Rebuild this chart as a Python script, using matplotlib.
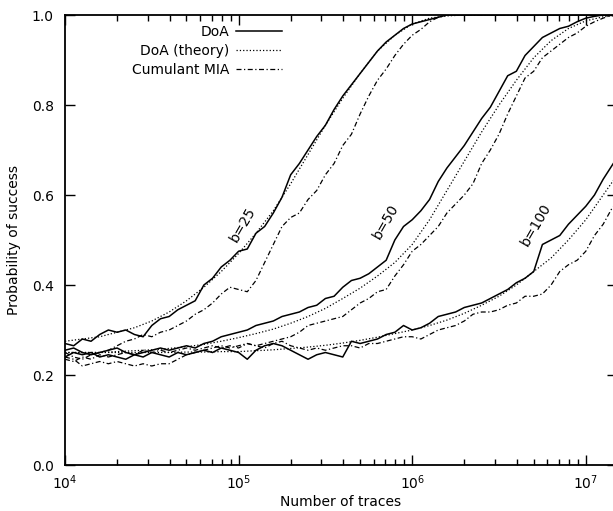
#!/usr/bin/env python3
import numpy as np
import matplotlib
matplotlib.use("Agg")
import matplotlib.pyplot as plt
from matplotlib.ticker import LogLocator, FixedLocator, FormatStrFormatter

# sampling grids (log10 of number of traces)
LOG_N_MEASURED = np.round(np.arange(4.0, 7.2001, 0.05), 2)
LOG_N_THEORY = np.round(np.arange(4.0, 7.2001, 0.1), 1)

# measured DoA success rates
doa_b25 = [
    0.27, 0.265, 0.28, 0.275, 0.29, 0.30, 0.295, 0.30, 0.29, 0.285,
    0.31, 0.325, 0.33, 0.345, 0.355, 0.365, 0.40, 0.415, 0.44, 0.455,
    0.475, 0.48, 0.515, 0.53, 0.56, 0.595, 0.645, 0.67, 0.70, 0.73,
    0.755, 0.79, 0.82, 0.845, 0.87, 0.895, 0.92, 0.94, 0.955, 0.97,
    0.98, 0.985, 0.99, 0.995, 1.0, 1.0, 1.0, 1.0, 1.0, 1.0,
    1.0, 1.0, 1.0, 1.0, 1.0, 1.0, 1.0, 1.0, 1.0, 1.0,
    1.0, 1.0, 1.0, 1.0, 1.0,
]
doa_b50 = [
    0.255, 0.26, 0.25, 0.245, 0.25, 0.255, 0.26, 0.25, 0.245, 0.25,
    0.255, 0.26, 0.255, 0.26, 0.265, 0.26, 0.27, 0.275, 0.285, 0.29,
    0.295, 0.30, 0.31, 0.315, 0.32, 0.33, 0.335, 0.34, 0.35, 0.355,
    0.37, 0.375, 0.395, 0.41, 0.415, 0.425, 0.44, 0.455, 0.50, 0.53,
    0.545, 0.565, 0.59, 0.63, 0.66, 0.685, 0.71, 0.74, 0.77, 0.795,
    0.83, 0.865, 0.875, 0.91, 0.93, 0.95, 0.96, 0.97, 0.975, 0.985,
    0.993, 0.997, 1.0, 1.0, 1.0,
]
doa_b100 = [
    0.24, 0.25, 0.245, 0.25, 0.24, 0.245, 0.24, 0.235, 0.245, 0.24,
    0.25, 0.245, 0.24, 0.25, 0.245, 0.25, 0.255, 0.25, 0.26, 0.255,
    0.25, 0.235, 0.255, 0.265, 0.27, 0.265, 0.255, 0.245, 0.235, 0.245,
    0.25, 0.245, 0.24, 0.275, 0.27, 0.275, 0.28, 0.29, 0.295, 0.31,
    0.30, 0.305, 0.315, 0.33, 0.335, 0.34, 0.35, 0.355, 0.36, 0.37,
    0.38, 0.39, 0.405, 0.415, 0.43, 0.49, 0.50, 0.51, 0.535, 0.555,
    0.575, 0.60, 0.635, 0.665, 0.695,
]

# cumulant MIA success rates
mia_b25 = [
    0.25, 0.24, 0.235, 0.245, 0.25, 0.255, 0.265, 0.275, 0.28, 0.29,
    0.285, 0.295, 0.30, 0.31, 0.32, 0.335, 0.345, 0.36, 0.38, 0.395,
    0.39, 0.385, 0.41, 0.45, 0.49, 0.53, 0.55, 0.56, 0.59, 0.61,
    0.645, 0.67, 0.71, 0.735, 0.78, 0.82, 0.855, 0.88, 0.91, 0.935,
    0.955, 0.968, 0.985, 0.995, 1.0, 1.0, 1.0, 1.0, 1.0, 1.0,
    1.0, 1.0, 1.0, 1.0, 1.0, 1.0, 1.0, 1.0, 1.0, 1.0,
    1.0, 1.0, 1.0, 1.0, 1.0,
]
mia_b50 = [
    0.24, 0.235, 0.22, 0.225, 0.23, 0.225, 0.23, 0.225, 0.22, 0.225,
    0.22, 0.225, 0.225, 0.235, 0.245, 0.25, 0.255, 0.26, 0.265, 0.26,
    0.265, 0.27, 0.265, 0.27, 0.275, 0.28, 0.285, 0.295, 0.31, 0.315,
    0.32, 0.325, 0.33, 0.345, 0.36, 0.37, 0.385, 0.39, 0.42, 0.445,
    0.475, 0.49, 0.51, 0.53, 0.56, 0.58, 0.60, 0.625, 0.67, 0.70,
    0.735, 0.78, 0.82, 0.86, 0.875, 0.905, 0.92, 0.935, 0.95, 0.96,
    0.975, 0.985, 0.993, 1.0, 1.0,
]
mia_b100 = [
    0.235, 0.23, 0.24, 0.235, 0.245, 0.24, 0.245, 0.25, 0.245, 0.255,
    0.25, 0.255, 0.25, 0.255, 0.26, 0.255, 0.26, 0.265, 0.26, 0.265,
    0.26, 0.27, 0.265, 0.26, 0.27, 0.275, 0.265, 0.26, 0.255, 0.26,
    0.255, 0.26, 0.265, 0.265, 0.26, 0.27, 0.27, 0.275, 0.28, 0.285,
    0.285, 0.28, 0.29, 0.30, 0.305, 0.31, 0.32, 0.335, 0.34, 0.34,
    0.345, 0.355, 0.36, 0.375, 0.375, 0.38, 0.40, 0.43, 0.445, 0.455,
    0.475, 0.51, 0.535, 0.57, 0.59,
]

# DoA theoretical prediction
theory_b25 = [
    0.275, 0.28, 0.285, 0.295, 0.305, 0.32, 0.34, 0.365, 0.395, 0.43,
    0.47, 0.515, 0.565, 0.625, 0.69, 0.755, 0.815, 0.87, 0.92, 0.955,
    0.98, 0.993, 0.998, 1.0, 1.0, 1.0, 1.0, 1.0, 1.0, 1.0,
    1.0, 1.0, 1.0,
]
theory_b50 = [
    0.25, 0.25, 0.25, 0.252, 0.254, 0.256, 0.259, 0.263, 0.268, 0.275,
    0.283, 0.292, 0.302, 0.315, 0.33, 0.348, 0.37, 0.393, 0.42, 0.45,
    0.49, 0.545, 0.61, 0.675, 0.74, 0.80, 0.855, 0.905, 0.943, 0.97,
    0.987, 0.996, 1.0,
]
theory_b100 = [
    0.25, 0.25, 0.25, 0.25, 0.25, 0.25, 0.25, 0.251, 0.251, 0.252,
    0.252, 0.254, 0.256, 0.259, 0.262, 0.266, 0.271, 0.277, 0.284, 0.292,
    0.30, 0.31, 0.322, 0.337, 0.355, 0.375, 0.40, 0.43, 0.46, 0.50,
    0.545, 0.60, 0.655,
]

# curve labels: (text, traces, probability)
CURVE_LABELS = [("b=25", 10 ** 5.025, 0.535), ("b=50", 10 ** 5.85, 0.54), ("b=100", 10 ** 6.713, 0.533)]

DASHDOT = (0, (4.0, 2.0, 1.0, 2.0))


def main():
    plt.rcParams["font.family"] = "DejaVu Sans"
    plt.rcParams["font.size"] = 10

    fig = plt.figure(figsize=(6.13, 5.11), dpi=100)
    ax = fig.add_axes([65 / 613, 46 / 511, 552 / 613, 450 / 511])

    n_meas = 10 ** LOG_N_MEASURED
    n_theo = 10 ** LOG_N_THEORY

    for idx, (doa, theo, mia) in enumerate(
        [(doa_b25, theory_b25, mia_b25), (doa_b50, theory_b50, mia_b50), (doa_b100, theory_b100, mia_b100)]
    ):
        ax.plot(n_meas, doa, color="black", linewidth=1.1, linestyle="-",
                label="DoA" if idx == 0 else None)
        ax.plot(n_theo, theo, color="black", linewidth=0.9, linestyle=":",
                label="DoA (theory)" if idx == 0 else None)
        ax.plot(n_meas, mia, color="black", linewidth=0.9, linestyle=DASHDOT,
                label="Cumulant MIA" if idx == 0 else None)

    for text, xv, yv in CURVE_LABELS:
        ax.text(xv, yv, text, rotation=60, ha="center", va="center", fontsize=10)

    ax.set_xscale("log")
    ax.set_xlim(1e4, 10 ** (4 + 552 / 173.6))
    ax.set_ylim(0, 1)
    ax.xaxis.set_major_locator(LogLocator(base=10, numticks=10))
    ax.xaxis.set_minor_locator(LogLocator(base=10, subs=np.arange(2, 10), numticks=20))
    ax.yaxis.set_major_locator(FixedLocator([0.0, 0.2, 0.4, 0.6, 0.8, 1.0]))
    ax.yaxis.set_major_formatter(FormatStrFormatter("%.1f"))

    ax.tick_params(which="both", direction="in", top=True, right=True, color="black")
    ax.tick_params(which="major", length=7, width=1.0, pad=6)
    ax.tick_params(which="minor", length=4, width=1.0)
    ax.tick_params(axis="y", pad=8)
    for spine in ax.spines.values():
        spine.set_linewidth(1.3)

    ax.set_xlabel("Number of traces", labelpad=2)
    ax.set_ylabel("Probability of success", labelpad=8)

    ax.legend(loc="upper right", bbox_to_anchor=((282 - 65) / 552, (465 - 25) / 450),
              frameon=False, markerfirst=False, handlelength=3.3, handletextpad=0.5,
              labelspacing=0.37, borderpad=0, borderaxespad=0)

    fig.savefig("out.png", dpi=100)
    plt.close(fig)


if __name__ == "__main__":
    main()
